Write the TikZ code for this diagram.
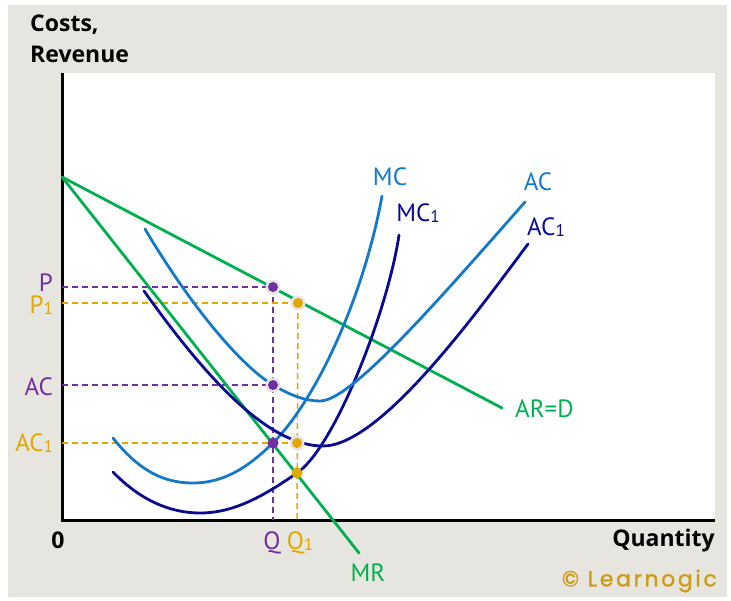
\documentclass[tikz,border=0pt]{standalone}
\usepackage{fontspec}
\setmainfont{PT Sans}
\newfontfamily\axfont{Open Sans}
\newfontfamily\logofont{Poppins}[LetterSpace=12,FakeBold=1.2]
\definecolor{grn}{RGB}{0,176,80}
\definecolor{lblue}{RGB}{20,122,200}
\definecolor{navy}{RGB}{10,10,145}
\definecolor{purp}{RGB}{112,48,160}
\definecolor{gold}{RGB}{225,168,0}
\definecolor{bgc}{RGB}{231,229,223}
\definecolor{logoc}{RGB}{205,155,20}
\newcommand\sub{\raisebox{-1pt}{\fontsize{17}{17}\selectfont 1}}
\tikzset{
  curve/.style={line width=2.8pt, line cap=round},
  dline/.style={line width=1.5pt, dash pattern=on 6pt off 4pt},
  lbl/.style={font=\fontsize{25}{25}\selectfont, inner sep=0pt},
  axlbl/.style={font=\axfont\bfseries\fontsize{23}{31}\selectfont, inner sep=0pt, text=black},
  halo/.style={fill=black!10},
}
\begin{document}
\begin{tikzpicture}[x=1pt,y=-1pt]
\useasboundingbox (0,0) rectangle (731,600);
\fill[white] (0,0) rectangle (731,600);
\fill[bgc] (8,5) rectangle (727,597);
\fill[white] (62,73) rectangle (715,520);
% axes
\coordinate (O) at (62,520);
\coordinate (Ytop) at (62,73);
\coordinate (Xend) at (715,520);
\draw[line width=3pt] (Ytop) -- (O) -- (Xend);
% key points
\coordinate (Dtop) at (62,177);
\coordinate (Dend) at (502,408);
\coordinate (MRend) at (359,553);
\coordinate (Pp) at (273,287);
\coordinate (P1p) at (298,303);
\coordinate (ACp) at (273,385);
\coordinate (AC1p) at (297,443);
\coordinate (Qp) at (273,443);
\coordinate (Q1p) at (297,473);
\coordinate (Py) at (62,287);
\coordinate (P1y) at (62,303);
\coordinate (ACy) at (62,385);
\coordinate (AC1y) at (62,443);
\coordinate (Qx) at (273,520);
\coordinate (Q1x) at (297,520);
% dashed lines
\draw[dline, purp] (Py) -- (Pp);
\draw[dline, purp] (ACy) -- (ACp);
\draw[dline, purp] (Pp) -- (Qx);
\draw[dline, gold] (P1y) -- (P1p);
\draw[dline, gold] (AC1y) -- (AC1p);
\draw[dline, gold] (P1p) -- (Q1x);
% demand and MR
\draw[curve, grn] (Dtop) -- (Dend);
\draw[curve, grn] (Dtop) -- (MRend);
% MC
\draw[curve, lblue] (113,438) .. controls (140,472) and (165,483) .. (193,483)
  .. controls (230,483) and (255,460) .. (Qp)
  .. controls (320,395) and (365,290) .. (382,196);
% MC1
\draw[curve, navy] (113,472) .. controls (140,500) and (170,513) .. (200,513)
  .. controls (235,513) and (265,495) .. (Q1p)
  .. controls (335,447) and (388,310) .. (399,235);
% AC
\draw[curve, lblue] (145,229) .. controls (190,305) and (240,365) .. (ACp)
  .. controls (290,395) and (305,401) .. (320,401)
  .. controls (350,401) and (430,310) .. (525,202);
% AC1
\draw[curve, navy] (144,291) .. controls (190,355) and (260,446) .. (323,446)
  .. controls (380,446) and (475,315) .. (528,244);
% dots
\fill[halo] (Pp) circle (7.5pt);
\fill[purp] (Pp) circle (5pt);
\fill[halo] (ACp) circle (7.5pt);
\fill[purp] (ACp) circle (5pt);
\fill[halo] (P1p) circle (7.5pt);
\fill[gold] (P1p) circle (5pt);
\fill[halo] (AC1p) circle (7.5pt);
\fill[gold] (AC1p) circle (5pt);
\fill[purp] (Qp) circle (5.5pt);
\fill[gold] (Q1p) circle (5.5pt);
% labels
\node[axlbl, anchor=north west, align=left] (ylab) at (30,15) {Costs,\\Revenue};
\node[axlbl, anchor=center] (zero) at (58,540) {0};
\node[axlbl, anchor=east] (xlab) at (715,541) {Quantity};
\node[anchor=east, inner sep=0pt, text=logoc, font=\logofont\fontsize{22}{22}\selectfont] (logo) at (717,581) {© Learnogic};
\node[lbl, text=purp, anchor=east] (lP) at (53,283) {P};
\node[lbl, text=gold, anchor=east] (lP1) at (53,305) {P\sub};
\node[lbl, text=purp, anchor=east] (lAC) at (53,387) {AC};
\node[lbl, text=gold, anchor=east] (lAC1) at (53,443) {AC\sub};
\node[lbl, text=purp] (lQ) at (272,543) {Q};
\node[lbl, text=gold] (lQ1) at (300,543) {Q\sub};
\node[lbl, text=grn] (lMR) at (368,573) {MR};
\node[lbl, text=grn, anchor=west] (lD) at (515,409) {AR=D};
\node[lbl, text=lblue] (lMC) at (390,177) {MC};
\node[lbl, text=navy] (lMC1) at (418,213) {MC\sub};
\node[lbl, text=lblue] (lAC2) at (538,182) {AC};
\node[lbl, text=navy] (lAC12) at (546,227) {AC\sub};
\end{tikzpicture}
\end{document}
